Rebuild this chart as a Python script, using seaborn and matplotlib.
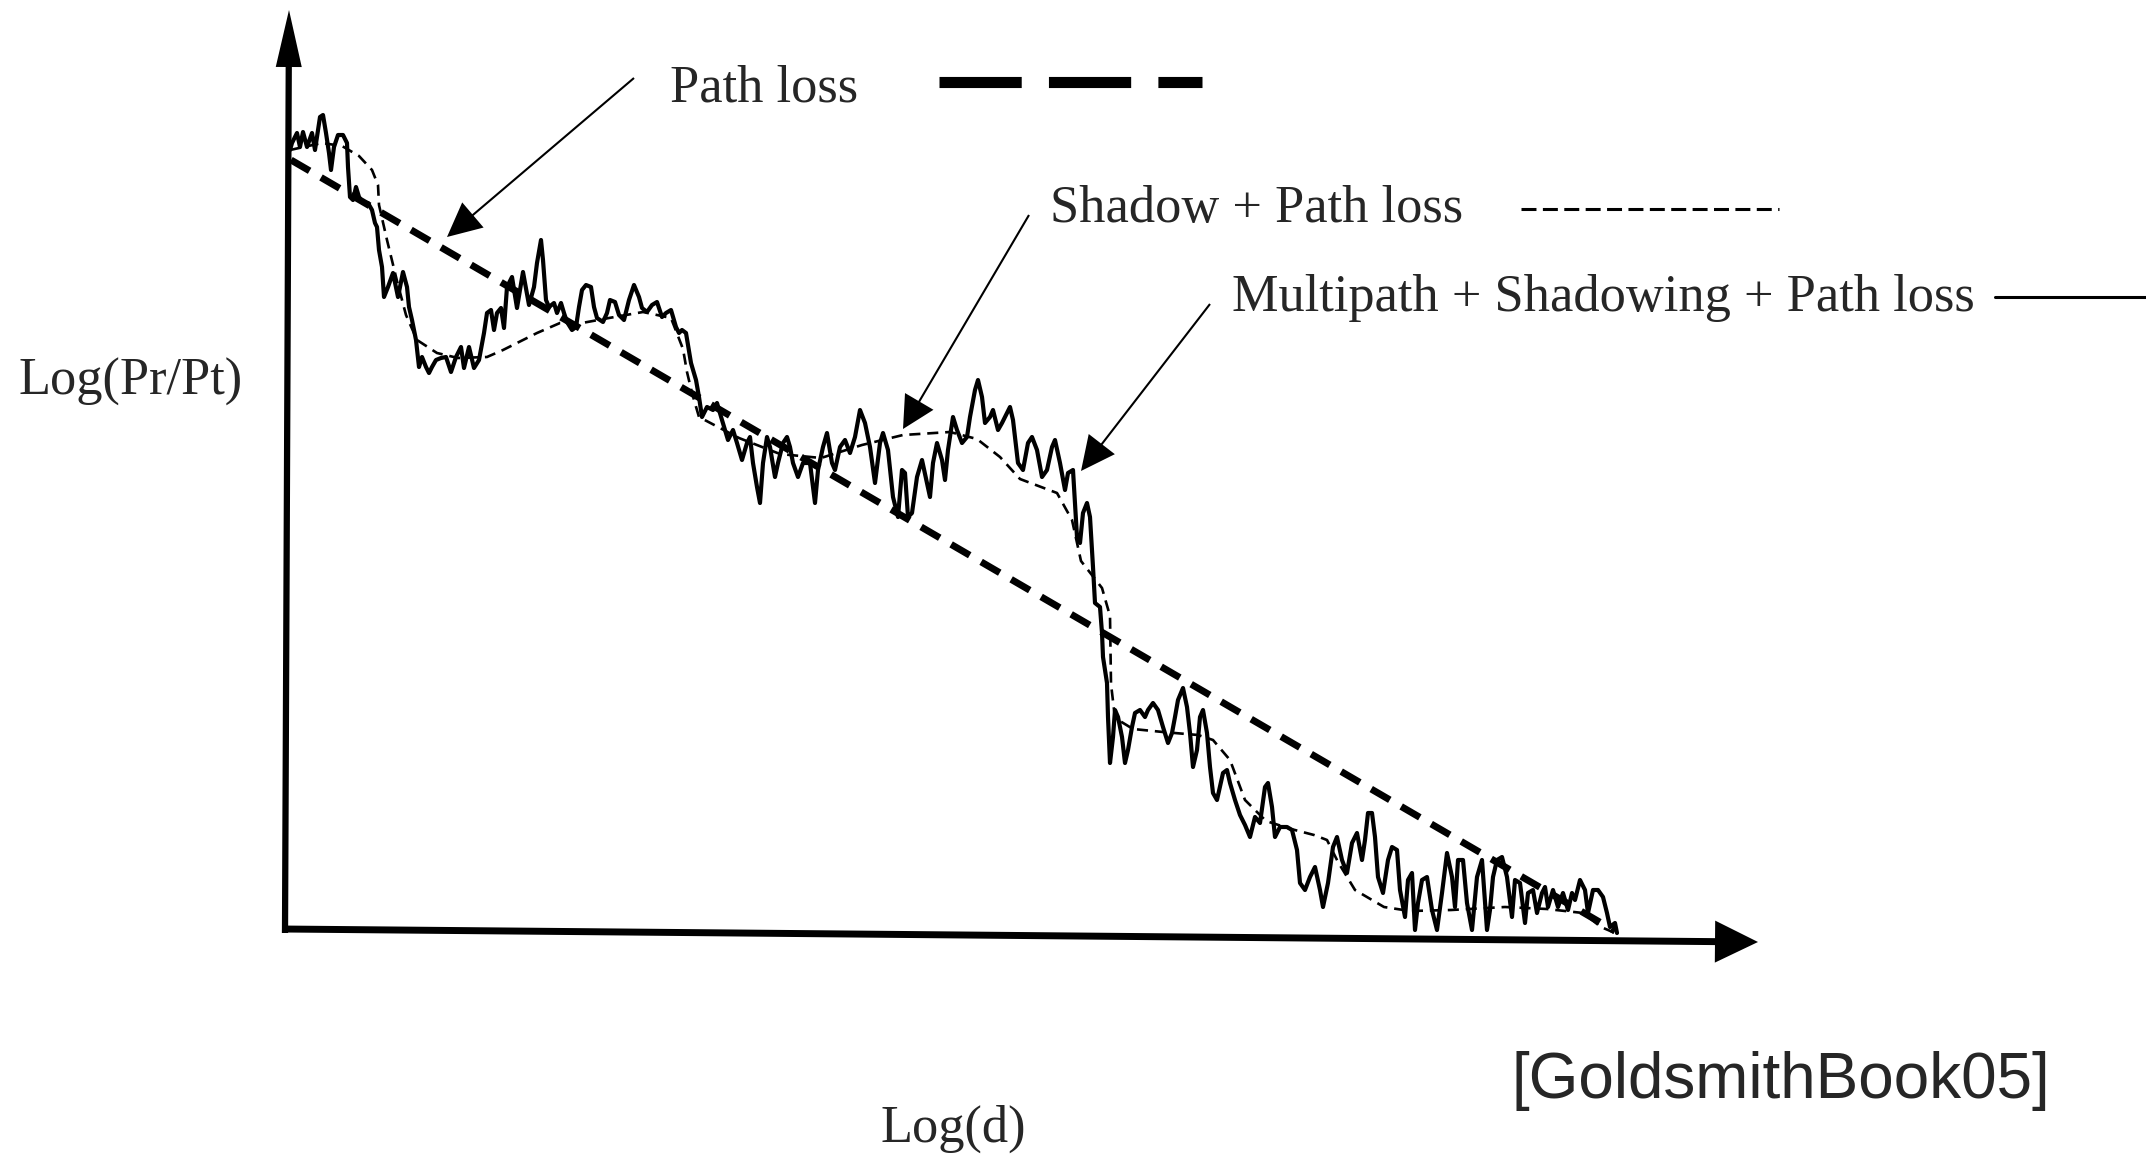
import numpy as np
import matplotlib
matplotlib.use("Agg")
import matplotlib.pyplot as plt
import seaborn as sns

# Chart values (units: image pixels, y grows downward)

# Path loss: straight line in log-log
pathloss_x = [291, 1615]
pathloss_y = [160, 931]

# Shadow + path loss (slow variation)
shadow_x = [290, 322, 342, 359, 372, 378, 379, 387, 397, 406,
            417, 437, 458, 487, 503, 537, 560, 582, 609, 643,
            671, 683, 687, 692, 699, 739, 780, 821, 862, 903,
            950, 977, 1000, 1020, 1057, 1072, 1081, 1102, 1110, 1111,
            1115, 1133, 1163, 1198, 1213, 1230, 1245, 1266, 1291, 1314,
            1327, 1338, 1355, 1384, 1410, 1451, 1505, 1547, 1583, 1601,
            1615]
shadow_y = [150, 143, 146, 156, 170, 185, 205, 240, 281, 315,
            340, 353, 358, 357, 350, 333, 323, 323, 318, 312,
            318, 349, 372, 393, 417, 438, 454, 458, 445, 435,
            432, 439, 457, 479, 493, 520, 561, 588, 616, 684,
            718, 729, 732, 735, 740, 760, 800, 821, 829, 835,
            840, 862, 890, 907, 911, 910, 907, 909, 913, 927,
            933]

# Multipath + shadowing + path loss, in four stretches
mp1_x = [290, 292, 297, 300, 303, 307, 312, 315, 320, 323,
         326, 329, 331, 334, 338, 343, 347, 348, 350, 353,
         356, 359, 363, 368, 372, 375, 377, 379, 382, 384,
         388, 393, 398, 403, 407, 409, 412, 416, 419, 422,
         426, 429, 432, 436, 441, 446, 451, 456, 461, 464,
         469, 474, 479, 484, 487, 491, 494, 497, 501, 504,
         507, 512, 517, 523, 529, 534, 537, 541, 543, 546,
         549, 554, 557, 561, 564, 567, 572, 576, 579, 582,
         586, 591, 594, 597, 603, 607, 610, 615, 619, 624,
         629, 634, 639, 642, 647, 652, 657, 662, 666, 671,
         676, 679, 682, 686, 691, 696, 699]
mp1_y = [150, 143, 133, 147, 132, 147, 133, 150, 117, 115,
         133, 153, 170, 147, 135, 135, 143, 167, 197, 200,
         187, 197, 203, 203, 210, 223, 227, 250, 267, 297,
         287, 273, 297, 272, 287, 307, 320, 340, 367, 357,
         367, 373, 367, 360, 358, 357, 372, 357, 347, 368,
         347, 368, 360, 333, 313, 310, 330, 313, 308, 328,
         287, 277, 308, 272, 305, 287, 263, 240, 260, 300,
         307, 303, 313, 303, 313, 322, 330, 327, 307, 290,
         285, 287, 307, 318, 322, 313, 300, 302, 315, 320,
         300, 285, 297, 308, 312, 305, 302, 317, 313, 310,
         327, 333, 330, 333, 363, 380, 397]

mp2_x = [702, 707, 713, 717, 722, 728, 733, 737, 742, 747,
         750, 753, 757, 760, 763, 767, 770, 775, 778, 783,
         787, 790, 793, 798, 803, 810, 815, 818, 823, 827,
         832, 835, 840, 845, 850, 855, 860, 865, 870, 875,
         880, 883, 888, 893, 898, 902, 905, 908, 912, 917,
         922, 927, 930, 933, 937, 942, 945, 948, 953, 957,
         962, 967, 970, 975, 978, 982, 985, 990, 993, 998,
         1002, 1005, 1010, 1013, 1018, 1023, 1028, 1032, 1037, 1042,
         1047, 1052, 1055, 1060, 1065, 1068, 1073]
mp2_y = [417, 407, 410, 403, 420, 440, 430, 443, 460, 443,
         437, 463, 487, 503, 463, 437, 447, 477, 463, 443,
         437, 447, 463, 477, 463, 463, 503, 470, 447, 433,
         463, 470, 447, 440, 453, 437, 410, 423, 447, 483,
         443, 433, 450, 497, 517, 470, 473, 517, 513, 477,
         460, 483, 497, 463, 443, 460, 480, 450, 417, 430,
         443, 437, 417, 390, 380, 397, 423, 417, 410, 430,
         423, 417, 407, 420, 463, 470, 443, 437, 450, 477,
         470, 447, 440, 463, 490, 473, 470]

mp3_x = [1077, 1080, 1083, 1087, 1090, 1093, 1095, 1100, 1102, 1103,
         1107, 1108, 1110, 1113, 1115, 1118, 1122, 1125, 1128, 1132,
         1135, 1140, 1145, 1148, 1153, 1158, 1163, 1168, 1172, 1175,
         1178, 1183, 1187, 1190, 1193, 1197, 1200, 1203, 1207, 1210,
         1213, 1217, 1223, 1227, 1230, 1235, 1240, 1245]
mp3_y = [537, 543, 513, 503, 517, 567, 603, 607, 633, 657,
         683, 717, 763, 737, 710, 717, 737, 763, 750, 727,
         713, 710, 717, 710, 703, 710, 727, 743, 733, 717,
         700, 688, 707, 733, 767, 750, 717, 710, 733, 767,
         793, 800, 773, 770, 783, 800, 815, 825]

mp4_x = [1250, 1255, 1260, 1265, 1268, 1272, 1275, 1280, 1287, 1292,
         1297, 1300, 1305, 1310, 1315, 1320, 1323, 1328, 1333, 1337,
         1342, 1347, 1352, 1357, 1362, 1365, 1368, 1372, 1375, 1378,
         1383, 1388, 1392, 1397, 1400, 1405, 1408, 1412, 1415, 1418,
         1422, 1427, 1432, 1437, 1442, 1447, 1452, 1455, 1458, 1463,
         1467, 1472, 1477, 1482, 1487, 1490, 1493, 1497, 1502, 1507,
         1512, 1515, 1520, 1525, 1528, 1533, 1537, 1542, 1545, 1548,
         1553, 1558, 1563, 1568, 1572, 1575, 1580, 1585, 1588, 1593,
         1598, 1603, 1607, 1610, 1615, 1617]
mp4_y = [837, 817, 823, 787, 783, 807, 837, 827, 827, 830,
         850, 883, 890, 877, 867, 890, 907, 883, 847, 837,
         860, 873, 843, 833, 860, 840, 813, 813, 837, 877,
         893, 860, 847, 850, 890, 917, 880, 873, 930, 903,
         880, 877, 910, 930, 893, 853, 877, 907, 860, 860,
         903, 930, 877, 860, 930, 910, 877, 860, 857, 877,
         917, 880, 883, 923, 893, 890, 913, 893, 887, 907,
         890, 907, 893, 910, 893, 900, 880, 890, 913, 890,
         890, 897, 913, 927, 923, 933]

multi_x = mp1_x + mp2_x + mp3_x + mp4_x
multi_y = mp1_y + mp2_y + mp3_y + mp4_y

sns.set_theme(style="white")
plt.rcParams['font.family'] = ['Liberation Serif', 'DejaVu Serif']

W, H = 2146, 1157
fig = plt.figure(figsize=(W / 100, H / 100), dpi=100)
ax = fig.add_axes([0, 0, 1, 1])
ax.set_xlim(0, W)
ax.set_ylim(H, 0)
ax.axis('off')


def arrow(start, tip, head_len, head_w, lw):
    # line plus a filled triangle head
    start = np.array(start, float)
    tip = np.array(tip, float)
    d = tip - start
    d = d / np.hypot(*d)
    n = np.array([-d[1], d[0]])
    base = tip - d * head_len
    ax.plot([start[0], base[0] + d[0] * 3], [start[1], base[1] + d[1] * 3],
            color='black', lw=lw, solid_capstyle='butt')
    tri = np.array([tip, base + n * head_w / 2, base - n * head_w / 2])
    ax.fill(tri[:, 0], tri[:, 1], color='black', lw=0)


# curves
sns.lineplot(x=pathloss_x, y=pathloss_y, ax=ax, sort=False, estimator=None,
             color='black', lw=5, linestyle=(0, (3.1, 1.9)))
sns.lineplot(x=shadow_x, y=shadow_y, ax=ax, sort=False, estimator=None,
             color='black', lw=1.9, linestyle=(0, (4.2, 2.6)))
sns.lineplot(x=multi_x, y=multi_y, ax=ax, sort=False, estimator=None,
             color='black', lw=3)

# axes drawn as arrows
arrow((285, 933), (289, 10), 57, 26, 4.5)
arrow((282, 929), (1758, 942), 43, 42, 5)

# pointer arrows
arrow((634, 78), (447, 237), 34, 33, 1.5)
arrow((1029, 215), (903, 429), 32, 33, 1.5)
arrow((1210, 304), (1081, 471), 34, 33, 1.5)

# labels and key
fs = 37.7
ax.text(670, 102, "Path loss", fontsize=fs, va='baseline', ha='left')
ax.plot([939, 1202], [82, 82], color='black', lw=8, linestyle=(0, (7.4, 2.45)))
ax.text(1050, 222, "Shadow + Path loss", fontsize=fs, va='baseline', ha='left')
ax.plot([1521, 1779], [209, 209], color='black', lw=2.2, linestyle=(0, (4.9, 2.1)))
ax.text(1232, 311, "Multipath + Shadowing + Path loss", fontsize=fs,
        va='baseline', ha='left')
ax.plot([1995, 2146], [297, 297], color='black', lw=2.2)

ax.text(19, 395, "Log(Pr/Pt)", fontsize=fs, va='baseline', ha='left')
ax.text(880, 1142, "Log(d)", fontsize=fs, va='baseline', ha='left')
ax.text(1512, 1098, "[GoldsmithBook05]", fontsize=46, va='baseline', ha='left',
        family=['Liberation Sans', 'DejaVu Sans'])

fig.savefig("out.png", dpi=100, facecolor='white')
